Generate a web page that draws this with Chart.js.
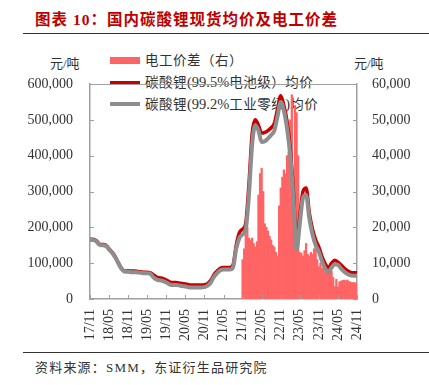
<!DOCTYPE html>
<html>
<head>
<meta charset="utf-8">
<script src="https://cdn.jsdelivr.net/npm/chart.js@4"></script>
<style>
  body { margin: 0; background: #fff; }
  #wrap { position: relative; width: 429px; height: 385px; overflow: hidden; }
  #wrap canvas { position: absolute; left: 0; top: 0; z-index: 1; }
  .txt { position: absolute; white-space: nowrap; color: #333; font-family: "Liberation Serif", "Noto Sans CJK SC", serif; line-height: 1; }
  .title { left: 35px; top: 12px; font-size: 15.5px; font-weight: bold; color: #C00000; letter-spacing: 1px; }
  .rule { position: absolute; left: 23px; width: 406px; height: 1px; background: #333; }
  .unit { top: 57px; font-size: 13px; }
  .src { left: 35px; top: 361px; font-size: 13px; letter-spacing: 1.2px; }
  .lg { left: 145px; font-size: 13.5px; letter-spacing: 0.5px; }
  .lg span { font-size: 14.5px; letter-spacing: 0; }
  .sw { position: absolute; left: 110px; width: 30px; }
</style>
</head>
<body>
<div id="wrap">
  <div class="txt title">图表 10：国内碳酸锂现货均价及电工价差</div>
  <div class="rule" style="top:33px"></div>
  <div class="txt unit" style="left:50px">元/吨</div>
  <div class="txt unit" style="left:354px">元/吨</div>
  <div id="legend"></div>
  <div class="rule" style="top:352px"></div>
  <div class="txt src">资料来源：SMM，东证衍生品研究院</div>
  <canvas id="myChart" width="429" height="385"></canvas>
</div>
<script>
// x axis: months since 2017/11, tick every 6 months
const tickLabels = ['17/11', '18/05', '18/11', '19/05', '19/11', '20/05', '20/11', '21/05',
  '21/11', '22/05', '22/11', '23/05', '23/11', '24/05', '24/11'];

const seriesNames = ['电工价差（右）', '碳酸锂(99.5%电池级）均价', '碳酸锂(99.2%工业零级)均价'];

// monthly prices, 2017/11 .. 2024/11 (yuan/ton)
const batteryGrade = [
  167000, 167000, 163000, 153000, 152000, 150000, 140000, 130000, 117000, 100000, 85000, 78000,
  79000, 78000, 78000, 77000, 76000, 75000, 75000, 73000, 67000, 61000, 59000, 57000,
  53000, 48000, 46000, 46000, 45000, 43000, 42000, 40000, 39000, 39000, 39000, 39000,
  40000, 43000, 52000, 68000, 78000, 86000, 88000, 88000, 88000, 95000, 150000, 185000,
  195000, 212000, 320000, 460000, 500000, 485000, 463000, 465000, 470000, 478000, 490000, 530000,
  567000, 540000, 495000, 420000, 300000, 150000, 230000, 300000, 310000, 240000, 195000, 165000,
  145000, 118000, 98000, 88000, 100000, 108000, 103000, 95000, 86000, 79000, 74000, 73000,
  73000
];
const industrialGrade = [
  165000, 165000, 161000, 151000, 150000, 148000, 138000, 128000, 115000, 98000, 83000, 76000,
  76000, 75000, 75000, 74000, 73000, 72000, 72000, 70000, 60000, 54000, 52000, 50000,
  46000, 41000, 39000, 39000, 38000, 36000, 35000, 33000, 32000, 32000, 32000, 32000,
  33000, 37000, 46000, 62000, 72000, 80000, 82000, 82000, 82000, 88000, 140000, 170000,
  180000, 195000, 290000, 430000, 485000, 470000, 438000, 440000, 448000, 458000, 470000, 510000,
  550000, 525000, 475000, 400000, 280000, 138000, 210000, 282000, 290000, 225000, 180000, 150000,
  132000, 105000, 85000, 75000, 88000, 97000, 95000, 85000, 76000, 70000, 66000, 65000,
  65000
];

// battery - industrial spread, half-monthly from 2021/11 (right axis)
const spreadStart = 48;
const spreadStep = 0.5;
const spread = [
  11000, 14000, 18000, 20000, 17000, 16500, 17000, 15500, 14500, 16000, 29000, 35000,
  36500, 30000, 21000, 20000, 19000, 17500, 16500, 15000, 14500, 13000, 12000, 26000,
  31000, 34000, 36000, 35000, 40000, 41000, 50000, 57000, 33000, 54000, 52000, 40000,
  13000, 12800, 12000, 13500, 15500, 12500, 12000, 13000, 12500, 14000, 14500, 11000,
  9000, 10000, 8500, 9500, 7500, 8500, 8000, 8200, 7800, 6000, 3500, 5500,
  3400, 4800, 5000, 5200, 5300, 5100, 5300, 4900, 4700, 4600, 4600, 4500,
  4500
];

const colors = ['#FF6464', '#C80000', '#8E8E8E'];
const axisColor = '#A0A0A0';
const tickFont = { family: 'Liberation Serif', size: 14 };

// legend under the canvas so the lines pass over it
(function buildLegend() {
  const lg = document.getElementById('legend');
  const rows = [
    { top: 57, h: 7, y: 54 },
    { top: 81, h: 3, y: 75 },
    { top: 102, h: 3.5, y: 97 }
  ];
  rows.forEach((r, i) => {
    const sw = document.createElement('div');
    sw.className = 'sw';
    sw.style.top = r.top + 'px';
    sw.style.height = r.h + 'px';
    sw.style.background = colors[i];
    lg.appendChild(sw);
    const t = document.createElement('div');
    t.className = 'txt lg';
    t.style.top = r.y + 'px';
    // latin parts a touch larger, like the source figure
    seriesNames[i].split(/([0-9.%()]+)/).forEach(part => {
      if (!part) return;
      if (/^[0-9.%()]+$/.test(part)) {
        const s = document.createElement('span');
        s.textContent = part;
        t.appendChild(s);
      } else {
        t.appendChild(document.createTextNode(part));
      }
    });
    lg.appendChild(t);
  });
})();

const frame = {
  id: 'frame',
  afterDraw(chart) {
    const { ctx, chartArea: a, scales } = chart;
    ctx.save();
    ctx.strokeStyle = axisColor;
    ctx.lineWidth = 1;
    ctx.beginPath();
    ctx.moveTo(a.left, a.top + 0.5);
    ctx.lineTo(a.right, a.top + 0.5);
    scales.y.ticks.forEach(t => {
      const y = Math.round(scales.y.getPixelForValue(t.value)) + 0.5;
      ctx.moveTo(a.left, y); ctx.lineTo(a.left + 4, y);
    });
    scales.y1.ticks.forEach(t => {
      const y = Math.round(scales.y1.getPixelForValue(t.value)) + 0.5;
      ctx.moveTo(a.right - 4, y); ctx.lineTo(a.right, y);
    });
    scales.x.ticks.forEach(t => {
      const x = Math.round(scales.x.getPixelForValue(t.value)) + 0.5;
      ctx.moveTo(x, a.bottom); ctx.lineTo(x, a.bottom - 4);
    });
    ctx.stroke();
    ctx.restore();
  }
};

const ctx = document.getElementById('myChart').getContext('2d');
new Chart(ctx, {
  type: 'bar',
  data: {
    datasets: [
      {
        type: 'bar',
        label: seriesNames[0],
        data: spread.map((v, i) => ({ x: spreadStart + i * spreadStep, y: v })),
        yAxisID: 'y1',
        backgroundColor: colors[0],
        borderWidth: 0,
        barPercentage: 1,
        categoryPercentage: 1,
        order: 3
      },
      {
        type: 'line',
        label: seriesNames[1],
        data: batteryGrade.map((v, i) => ({ x: i, y: v })),
        yAxisID: 'y',
        borderColor: colors[1],
        borderWidth: 3.5,
        pointRadius: 0,
        cubicInterpolationMode: 'monotone',
        order: 2
      },
      {
        type: 'line',
        label: seriesNames[2],
        data: industrialGrade.map((v, i) => ({ x: i, y: v })),
        yAxisID: 'y',
        borderColor: colors[2],
        borderWidth: 4,
        pointRadius: 0,
        cubicInterpolationMode: 'monotone',
        order: 1
      }
    ]
  },
  options: {
    responsive: false,
    animation: false,
    devicePixelRatio: 1,
    layout: { padding: { top: 84, left: 0, right: 0, bottom: 0 } },
    plugins: { legend: { display: false }, tooltip: { enabled: false } },
    scales: {
      x: {
        type: 'linear',
        min: 0,
        max: 84,
        offset: false,
        afterFit: s => { s.height = 86; },
        grid: { display: true, drawOnChartArea: false, drawTicks: false },
        border: { color: axisColor, width: 1.5 },
        ticks: {
          stepSize: 6,
          autoSkip: false,
          maxRotation: 90,
          minRotation: 90,
          padding: 10,
          color: '#333',
          font: tickFont,
          callback: v => tickLabels[v / 6]
        }
      },
      y: {
        position: 'left',
        min: 0,
        max: 600000,
        afterFit: s => { s.width = 90; },
        grid: { display: true, drawOnChartArea: false, drawTicks: false },
        border: { color: axisColor, width: 1.5 },
        ticks: {
          stepSize: 100000,
          padding: 17,
          color: '#333',
          font: tickFont,
          callback: v => v.toLocaleString('en-US')
        }
      },
      y1: {
        position: 'right',
        min: 0,
        max: 60000,
        afterFit: s => { s.width = 72; },
        grid: { display: true, drawOnChartArea: false, drawTicks: false },
        border: { color: axisColor, width: 1.5 },
        ticks: {
          stepSize: 10000,
          padding: 15,
          color: '#333',
          font: tickFont,
          callback: v => v.toLocaleString('en-US')
        }
      }
    }
  },
  plugins: [frame]
});
</script>
</body>
</html>
